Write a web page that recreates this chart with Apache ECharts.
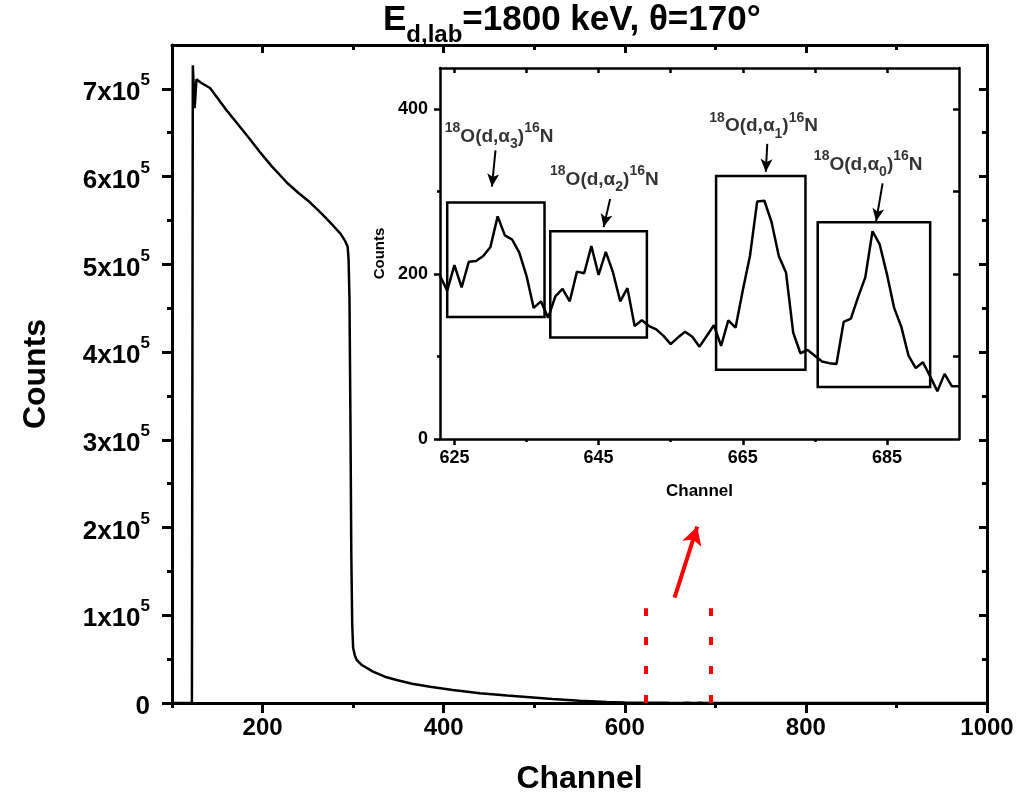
<!DOCTYPE html>
<html><head><meta charset="utf-8">
<script src="https://cdn.jsdelivr.net/npm/echarts@6/dist/echarts.min.js"></script>
<style>html,body{margin:0;padding:0;background:#fff}#c{width:1031px;height:806px}</style>
</head><body><div id="c"></div>
<script>
// ---------- data ----------
const mainChannels = [100, 122, 123, 125, 127, 132, 142, 150, 160, 171, 185, 197, 210, 227, 240, 252, 265, 278, 286, 291, 294, 295, 296, 297, 298, 299, 300, 302, 304, 310, 322, 335, 348, 365, 385, 410, 440, 470, 495, 520, 550, 580, 600, 610];
const mainCounts   = [0, 0, 727000, 678000, 711000, 707000, 701000, 690000, 676000, 662000, 644000, 628000, 612000, 593000, 581000, 571000, 558000, 544000, 535000, 527000, 520000, 505000, 460000, 330000, 170000, 90000, 63000, 54000, 49000, 43000, 35700, 30000, 26300, 22000, 18600, 14800, 11000, 8500, 6500, 4500, 2600, 1200, 600, 400];
const insetChannels = [623, 624, 625, 626, 627, 628, 629, 630, 631, 632, 633, 634, 635, 636, 637, 638, 639, 640, 641, 642, 643, 644, 645, 646, 647, 648, 649, 650, 651, 652, 653, 654, 655, 656, 657, 658, 659, 660, 661, 662, 663, 664, 665, 666, 667, 668, 669, 670, 671, 672, 673, 674, 675, 676, 677, 678, 679, 680, 681, 682, 683, 684, 685, 686, 687, 688, 689, 690, 691, 692, 693, 694, 695];
const insetCounts   = [198, 180, 211, 184, 215, 216, 222, 233, 270, 247, 242, 226, 198, 159, 167, 147, 173, 182, 167, 203, 201, 234, 199, 227, 202, 167, 183, 137, 144, 137, 133, 125, 115, 123, 130, 124, 112, 125, 138, 113, 144, 135, 180, 222, 288, 289, 263, 222, 202, 129, 104, 108, 101, 94, 92, 91, 142, 146, 172, 196, 252, 236, 200, 159, 136, 101, 86, 93, 76, 58, 79, 64, 64];
const tailChannels = [700, 750, 800, 900, 1000];
const tailCounts   = [60, 40, 25, 10, 5];

const mainXLabels = [200, 400, 600, 800, 1000];
const mainXMinor  = [100, 300, 500, 700, 900];
const mainYLabels = [0, 100000, 200000, 300000, 400000, 500000, 600000, 700000];
const mainYMinor  = [50000, 150000, 250000, 350000, 450000, 550000, 650000];
const insetXLabels = [625, 645, 665, 685];
const insetXMinor  = [635, 655, 675];
const insetYLabels = [0, 200, 400];
const insetYMinor  = [100, 300];

const zoomWindow = [623, 695];        // red dotted markers in main chart
const zoomMarkerTop = 108000;
const zoomArrow = [[655, 120000], [680, 201000]];

const peakNames   = ['3', '2', '1', '0'];
const peakBoxX0   = [624.0, 638.3, 661.3, 675.4];
const peakBoxX1   = [637.5, 651.7, 673.7, 691.0];
const peakBoxY0   = [148, 123, 84, 63];
const peakBoxY1   = [287, 252, 319, 263];
const peakLabelX  = [631.2, 645.8, 667.9, 682.4];
const peakLabelY  = [367, 315, 380, 333];
const peakArrowX0 = [630.7, 646.6, 668.4, 684.4];
const peakArrowY0 = [350, 291, 358, 310];
const peakArrowX1 = [630.2, 645.7, 668.2, 683.5];
const peakArrowY1 = [306, 257, 324, 264];

// ---------- chart ----------
const FONT = '"Liberation Sans", Arial, Helvetica, sans-serif';
const mainData = [];
mainChannels.forEach((c, i) => mainData.push([c, mainCounts[i]]));
insetChannels.forEach((c, i) => mainData.push([c, insetCounts[i]]));
tailChannels.forEach((c, i) => mainData.push([c, tailCounts[i]]));
const insetData = insetChannels.map((c, i) => [c, insetCounts[i]]);

function mkAxis(o) {
  const a = {
    type: 'value', gridIndex: o.grid, position: o.pos, min: o.min, max: o.max,
    splitLine: { show: false },
    axisLine: { show: !!o.line, onZero: false, lineStyle: { color: '#000', width: o.lw || 3 } },
    axisTick: o.ticks ? { show: true, inside: !!o.inside, length: o.tl, customValues: o.ticks,
      lineStyle: { color: '#000', width: o.lw || 3 } } : { show: false },
    axisLabel: { show: false },
    axisPointer: { show: false }
  };
  if (o.labels) {
    a.axisLabel = { show: true, customValues: o.labels, margin: o.margin, color: '#000',
      fontFamily: FONT, fontWeight: 'bold', fontSize: o.fs, formatter: o.fmt || (v => String(v)), rich: o.rich };
  }
  if (o.name) {
    a.name = o.name; a.nameLocation = 'middle'; a.nameGap = o.nameGap;
    a.nameTextStyle = { fontFamily: FONT, fontWeight: 'bold', fontSize: o.nfs, color: '#000' };
  }
  return a;
}

const yFmt = v => v === 0 ? '{b|0}' : '{b|' + (v / 100000) + 'x10}{sup|5}';
const yRich = {
  b: { fontFamily: FONT, fontWeight: 'bold', fontSize: 26, lineHeight: 34, verticalAlign: 'bottom', color: '#000' },
  sup: { fontFamily: FONT, fontWeight: 'bold', fontSize: 17, lineHeight: 17, verticalAlign: 'top', color: '#000' }
};

const xAxes = [
  mkAxis({ grid: 0, pos: 'bottom', min: 100, max: 1000, line: true, ticks: mainXLabels, tl: 10, labels: mainXLabels, margin: 13, fs: 24, name: 'Channel', nameGap: 60, nfs: 32 }),
  mkAxis({ grid: 0, pos: 'bottom', min: 100, max: 1000, ticks: mainXMinor, tl: 5 }),
  mkAxis({ grid: 0, pos: 'top', min: 100, max: 1000, line: true, ticks: mainXLabels.slice(0, 4), tl: 8, inside: true }),
  mkAxis({ grid: 0, pos: 'top', min: 100, max: 1000, ticks: mainXMinor.slice(1), tl: 5, inside: true }),
  mkAxis({ grid: 1, pos: 'bottom', min: 623, max: 695, line: true, lw: 2.5, ticks: insetXLabels, tl: 6, labels: insetXLabels, margin: 10, fs: 18, name: 'Channel', nameGap: 44, nfs: 17 }),
  mkAxis({ grid: 1, pos: 'bottom', min: 623, max: 695, lw: 2.5, ticks: insetXMinor, tl: 3 }),
  mkAxis({ grid: 1, pos: 'top', min: 623, max: 695, line: true, lw: 2.5, ticks: insetXLabels.concat(insetXMinor), tl: 5, inside: true })
];
const yAxes = [
  mkAxis({ grid: 0, pos: 'left', min: 0, max: 750000, line: true, ticks: mainYLabels, tl: 10, labels: mainYLabels, margin: 22, fs: 26, fmt: yFmt, rich: yRich, name: 'Counts', nameGap: 120, nfs: 32 }),
  mkAxis({ grid: 0, pos: 'left', min: 0, max: 750000, ticks: mainYMinor, tl: 5 }),
  mkAxis({ grid: 0, pos: 'right', min: 0, max: 750000, line: true, ticks: mainYLabels.slice(1), tl: 8, inside: true }),
  mkAxis({ grid: 0, pos: 'right', min: 0, max: 750000, ticks: mainYMinor, tl: 5, inside: true }),
  mkAxis({ grid: 1, pos: 'left', min: 0, max: 450, line: true, lw: 2.5, ticks: insetYLabels, tl: 6, labels: insetYLabels, margin: 12, fs: 18, name: 'Counts', nameGap: 46, nfs: 15 }),
  mkAxis({ grid: 1, pos: 'left', min: 0, max: 450, lw: 2.5, ticks: insetYMinor, tl: 3 }),
  mkAxis({ grid: 1, pos: 'right', min: 0, max: 450, line: true, lw: 2.5, ticks: insetYLabels.slice(1).concat(insetYMinor), tl: 6, inside: true })
];

const labelRich = {
  n: { fontFamily: FONT, fontWeight: 'bold', fontSize: 19, lineHeight: 30, verticalAlign: 'middle', color: '#000' },
  sup: { fontFamily: FONT, fontWeight: 'bold', fontSize: 14, lineHeight: 14, verticalAlign: 'top', color: '#000' },
  sub: { fontFamily: FONT, fontWeight: 'bold', fontSize: 14, lineHeight: 14, verticalAlign: 'bottom', color: '#000' }
};

const option = {
  animation: false,
  backgroundColor: '#fff',
  title: {
    text: '{n|E}{sub|d,lab}{n|=1800 keV, θ=170°}',
    left: 383, top: 3, padding: 0,
    textStyle: {
      rich: {
        n: { fontFamily: FONT, fontWeight: 'bold', fontSize: 35, lineHeight: 44, verticalAlign: 'top', color: '#000' },
        sub: { fontFamily: FONT, fontWeight: 'bold', fontSize: 24, lineHeight: 24, verticalAlign: 'bottom', color: '#000' }
      }
    }
  },
  grid: [
    { left: 172, top: 45, width: 815, height: 658, outerBoundsMode: 'none' },
    { left: 440, top: 68, width: 519, height: 371, outerBoundsMode: 'none' }
  ],
  xAxis: xAxes,
  yAxis: yAxes,
  series: [
    {
      type: 'line', xAxisIndex: 0, yAxisIndex: 0, data: mainData, symbol: 'none',
      lineStyle: { color: '#000', width: 2.5 }, silent: true,
      markLine: {
        silent: true, animation: false, label: { show: false },
        data: [
          [{ coord: [zoomWindow[0], 0], symbol: 'none' }, { coord: [zoomWindow[0], zoomMarkerTop], symbol: 'none' }],
          [{ coord: [zoomWindow[1], 0], symbol: 'none' }, { coord: [zoomWindow[1], zoomMarkerTop], symbol: 'none' }],
          [{ coord: zoomArrow[0], symbol: 'none', lineStyle: { type: 'solid' } },
           { coord: zoomArrow[1], symbol: 'arrow', symbolSize: [15, 18] }]
        ],
        lineStyle: { color: '#ff0000', width: 4, type: [8, 21] },
        emphasis: { disabled: true }
      }
    },
    {
      type: 'line', xAxisIndex: 4, yAxisIndex: 4, data: insetData, symbol: 'none',
      lineStyle: { color: '#000', width: 2.5 }, silent: true,
      markArea: {
        silent: true,
        itemStyle: { color: 'rgba(0,0,0,0)', borderColor: '#000', borderWidth: 2.5 },
        data: peakBoxX0.map((x0, i) => [{ coord: [x0, peakBoxY0[i]] }, { coord: [peakBoxX1[i], peakBoxY1[i]] }])
      },
      markLine: {
        silent: true, animation: false, label: { show: false },
        lineStyle: { color: '#000', width: 2, type: 'solid' },
        data: peakArrowX0.map((x0, i) => [
          { coord: [x0, peakArrowY0[i]], symbol: 'none' },
          { coord: [peakArrowX1[i], peakArrowY1[i]], symbol: 'arrow', symbolSize: [9, 13] }
        ])
      }
    },
    {
      type: 'scatter', xAxisIndex: 4, yAxisIndex: 4, symbolSize: 0, silent: true,
      data: peakNames.map((n, i) => ({
        value: [peakLabelX[i], peakLabelY[i]],
        label: { formatter: '{sup|18}{n|O(d,α}{sub|' + n + '}{n|)}{sup|16}{n|N}' }
      })),
      label: { show: true, position: 'inside', color: '#000', textBorderWidth: 0, rich: labelRich }
    }
  ]
};

const chart = echarts.init(document.getElementById('c'), null, { renderer: 'canvas' });
chart.setOption(option);
</script></body></html>
